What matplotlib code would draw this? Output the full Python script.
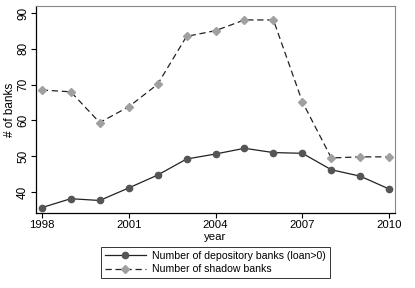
import numpy as np
import matplotlib
matplotlib.use('Agg')
import matplotlib.pyplot as plt

plt.rcParams['font.family'] = ['Liberation Sans', 'DejaVu Sans']
plt.rcParams['font.size'] = 8.5

years = [1998, 1999, 2000, 2001, 2002, 2003, 2004, 2005, 2006, 2007, 2008, 2009, 2010]
depository = [35.6, 38.1, 37.6, 41.1, 44.7, 49.2, 50.6, 52.2, 51.0, 50.8, 46.2, 44.4, 40.8]
shadow = [68.5, 68.0, 59.4, 63.8, 70.1, 83.5, 85.1, 88.1, 88.1, 65.2, 49.5, 49.8, 49.8]
xticks = [1998, 2001, 2004, 2007, 2010]
yticks = [40, 50, 60, 70, 80, 90]

fig = plt.figure(figsize=(4.15, 2.88), dpi=100)
ax = fig.add_axes([36 / 415, 1 - 213 / 288, 359 / 415, 207 / 288])

ax.plot(years, depository, color='#222222', lw=0.9, marker='o', markersize=4.5,
        markerfacecolor='#555555', markeredgecolor='#555555',
        label='Number of depository banks (loan>0)')
ax.plot(years, shadow, color='#222222', lw=0.9, ls=(0, (5, 3)), marker='D', markersize=4,
        markerfacecolor='#a0a0a0', markeredgecolor='#a0a0a0',
        label='Number of shadow banks')

ax.set_xlim(1997.8, 2010.2)
ax.set_ylim(34.1, 92)
ax.set_xticks(xticks)
ax.set_yticks(yticks)
ax.set_yticklabels([str(v) for v in yticks], rotation=90, va='center')
ax.tick_params(direction='out', length=3.5, width=0.8, color='black', pad=1.5)
ax.tick_params(axis='x', labelsize=8.2)
ax.set_xlabel('year', fontsize=8.2)
ax.set_ylabel('# of banks')
ax.xaxis.set_label_coords(0.5, -0.115)
ax.yaxis.set_label_coords(-0.072, 0.5)
ax.xaxis.label.set_va('center')
ax.yaxis.label.set_va('center')

for s in ['top', 'right']:
    ax.spines[s].set_color('#888888')
    ax.spines[s].set_linewidth(0.8)
for s in ['left', 'bottom']:
    ax.spines[s].set_color('black')
    ax.spines[s].set_linewidth(0.9)

leg = fig.legend(*ax.get_legend_handles_labels(), loc='upper center',
                 bbox_to_anchor=(215.5 / 415, 1 - 247 / 288), ncol=1, fontsize=7.6,
                 frameon=True, fancybox=False, edgecolor='black',
                 handlelength=3.9, borderpad=0.35, labelspacing=0.35, handletextpad=0.6,
                 borderaxespad=0)
leg.get_frame().set_linewidth(0.7)

fig.savefig('out.png', dpi=100)
